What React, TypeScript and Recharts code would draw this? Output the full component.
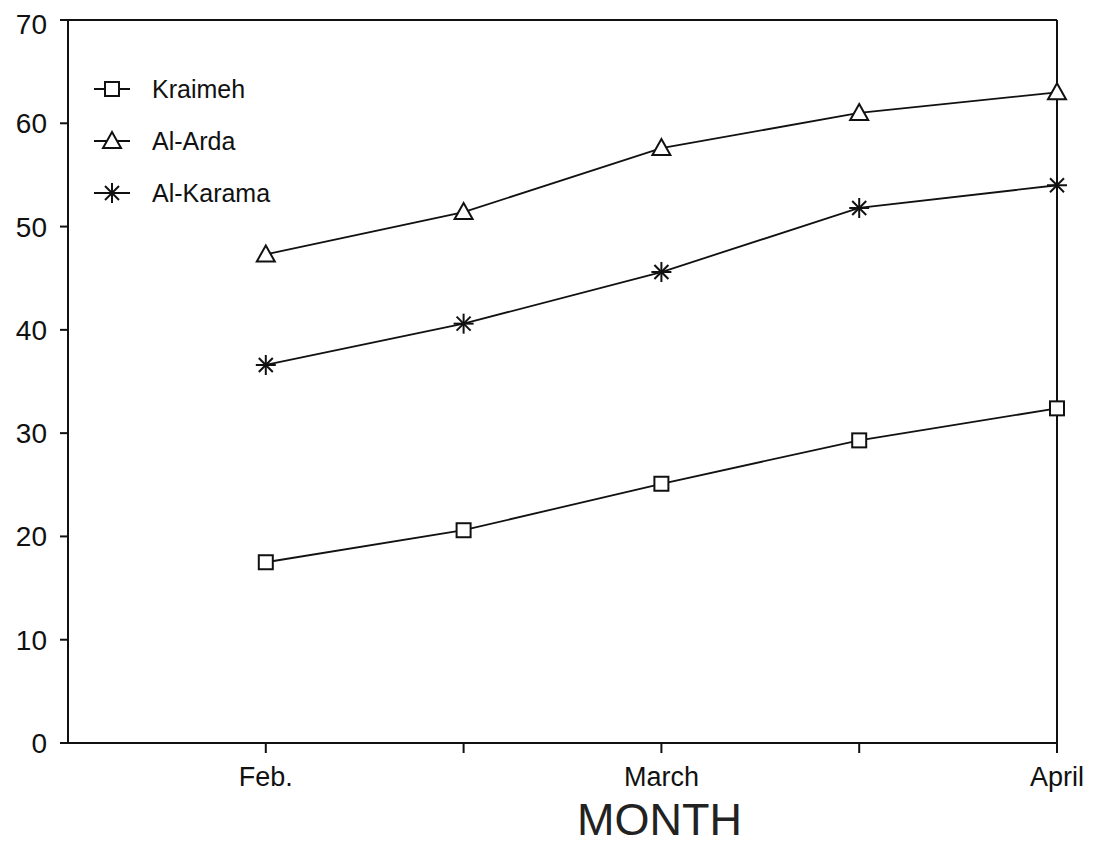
import React from 'react';
import { LineChart, Line, XAxis, YAxis, Legend, ReferenceLine, Label } from 'recharts';

const positions = [1, 2, 3, 4, 5];
const monthLabels = ['Feb.', '', 'March', '', 'April'];
const yTicks = [0, 10, 20, 30, 40, 50, 60, 70];

const kraimeh = [17.5, 20.6, 25.1, 29.3, 32.4];
const alArda = [47.3, 51.4, 57.6, 61.0, 63.0];
const alKarama = [36.6, 40.6, 45.6, 51.8, 54.0];

const data = positions.map((x, i) => ({
  x,
  month: monthLabels[i],
  kraimeh: kraimeh[i],
  alArda: alArda[i],
  alKarama: alKarama[i],
}));

const INK = '#111';
const FONT = '"Liberation Sans", Arial, sans-serif';

function SquareMark({ cx, cy }: { cx: number; cy: number }) {
  return <rect x={cx - 7} y={cy - 7} width={14} height={14} fill="#fff" stroke={INK} strokeWidth={2} />;
}

function TriangleMark({ cx, cy }: { cx: number; cy: number }) {
  return (
    <polygon
      points={`${cx},${cy - 9} ${cx + 9},${cy + 7} ${cx - 9},${cy + 7}`}
      fill="#fff"
      stroke={INK}
      strokeWidth={2}
    />
  );
}

function StarMark({ cx, cy }: { cx: number; cy: number }) {
  const r = 10;
  const d = r * 0.7;
  return (
    <g stroke={INK} strokeWidth={2}>
      <line x1={cx - r} y1={cy} x2={cx + r} y2={cy} />
      <line x1={cx} y1={cy - r} x2={cx} y2={cy + r} />
      <line x1={cx - d} y1={cy - d} x2={cx + d} y2={cy + d} />
      <line x1={cx - d} y1={cy + d} x2={cx + d} y2={cy - d} />
    </g>
  );
}

const series = [
  { key: 'kraimeh', name: 'Kraimeh', Mark: SquareMark },
  { key: 'alArda', name: 'Al-Arda', Mark: TriangleMark },
  { key: 'alKarama', name: 'Al-Karama', Mark: StarMark },
];

function LegendBox() {
  return (
    <div style={{ fontFamily: FONT, fontSize: 25, color: INK }}>
      {series.map(({ key, name, Mark }) => (
        <div key={key} style={{ display: 'flex', alignItems: 'center', height: 52 }}>
          <svg width={44} height={30}>
            <line x1={4} y1={15} x2={40} y2={15} stroke={INK} strokeWidth={2} />
            <Mark cx={22} cy={15} />
          </svg>
          <span style={{ marginLeft: 18 }}>{name}</span>
        </div>
      ))}
    </div>
  );
}

export default function App() {
  return (
    <LineChart
      width={1090}
      height={845}
      data={data}
      margin={{ top: 12, right: 41, left: 0, bottom: 10 }}
      style={{ fontFamily: FONT }}
    >
      <XAxis
        dataKey="x"
        type="number"
        domain={[0, 5]}
        ticks={positions}
        tickFormatter={(v: number) => monthLabels[v - 1]}
        height={100}
        stroke={INK}
        strokeWidth={2}
        tickSize={10}
        tickMargin={14}
        tick={{ fill: INK, fontSize: 27 }}
      >
        <Label
          value="MONTH"
          position="insideBottom"
          offset={8}
          dx={97}
          style={{ fontSize: 45, fill: '#222', fontFamily: FONT }}
        />
      </XAxis>
      <YAxis
        type="number"
        domain={[0, 70]}
        ticks={yTicks}
        width={60}
        stroke={INK}
        strokeWidth={2}
        tickSize={8}
        tickMargin={13}
        tick={{ fill: INK, fontSize: 28 }}
      />
      <ReferenceLine y={70} stroke={INK} strokeWidth={2} />
      <ReferenceLine x={5} stroke={INK} strokeWidth={2} />
      <Legend
        layout="vertical"
        align="center"
        verticalAlign="middle"
        content={<LegendBox />}
        wrapperStyle={{ left: 82, top: 55, width: 260 }}
      />
      {series.map(({ key, name, Mark }) => (
        <Line
          key={key}
          dataKey={key}
          name={name}
          stroke={INK}
          strokeWidth={1.8}
          isAnimationActive={false}
          dot={(p: any) => <Mark key={`${key}-${p.index}`} cx={p.cx} cy={p.cy} />}
          activeDot={false}
        />
      ))}
    </LineChart>
  );
}
